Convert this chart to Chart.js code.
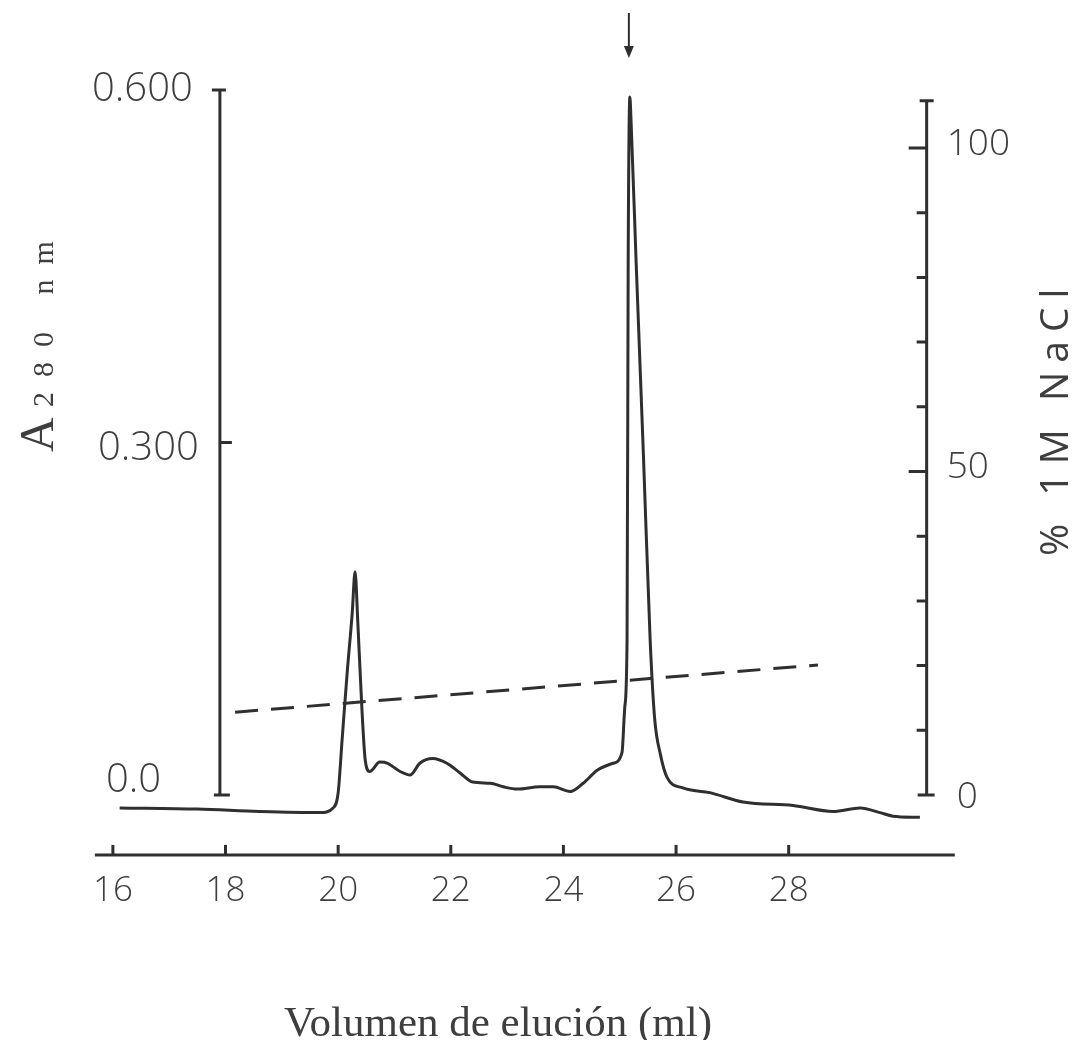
<!DOCTYPE html>
<html>
<head>
<meta charset="utf-8">
<script src="https://cdnjs.cloudflare.com/ajax/libs/Chart.js/4.4.1/chart.umd.min.js"></script>
<style>
  html, body { margin: 0; padding: 0; background: #fff; }
  canvas { display: block; }
</style>
</head>
<body>
<canvas id="elutionChart" width="1091" height="1040"></canvas>
<script>
// elution profile, A280 against volume (ml)
const elutionMl = [16.12, 17.5, 18.6, 19.68, 19.91, 20.0, 20.07, 20.16, 20.25, 20.30,
  20.35, 20.42, 20.48, 20.56, 20.74, 20.88, 21.10, 21.28, 21.45, 21.68,
  21.93, 22.16, 22.39, 22.70, 22.93, 23.18, 23.58, 23.82, 24.12, 24.35,
  24.60, 24.88, 25.04, 25.09, 25.13, 25.15, 25.18, 25.20, 25.29, 25.42,
  25.54, 25.62, 25.72, 25.84, 26.12, 26.60, 27.19, 28.08, 28.79, 29.27,
  29.62, 29.85, 30.33];
const absorbance = [-0.011, -0.012, -0.014, -0.015, -0.011, 0.002, 0.047, 0.104, 0.155, 0.190,
  0.146, 0.075, 0.030, 0.020, 0.028, 0.027, 0.020, 0.017, 0.027, 0.031,
  0.027, 0.019, 0.011, 0.010, 0.007, 0.005, 0.007, 0.007, 0.003, 0.010,
  0.021, 0.027, 0.036, 0.075, 0.132, 0.455, 0.594, 0.575, 0.455, 0.290,
  0.132, 0.065, 0.035, 0.015, 0.006, 0.002, -0.006, -0.009, -0.014, -0.011,
  -0.015, -0.018, -0.019];

// salt gradient (dashed)
const gradientMl = [18.17, 28.52];
const gradientPct = [12.8, 20.1];

// axes
const xTicks = [16, 18, 20, 22, 24, 26, 28];
const absTicks = [0.6, 0.3, 0.0];
const absTickLabels = ["0.600", "0.300", "0.0"];
const naclTicks = [0, 10, 20, 30, 40, 50, 60, 70, 80, 90, 100];
const naclLabelled = [0, 50, 100];
const peakArrowMl = 25.18;

const INK = "#2f2f2f";
const TEXT = "#3e3e3e";

const toPoints = (xs, ys) => xs.map((x, i) => ({ x: x, y: ys[i] }));

const axesPlugin = {
  id: "handAxes",
  afterDraw(chart) {
    const ctx = chart.ctx;
    const x = chart.scales.x;
    const yA = chart.scales.yA;
    const yN = chart.scales.yN;
    ctx.save();
    ctx.strokeStyle = INK;
    ctx.fillStyle = TEXT;
    ctx.lineWidth = 3;
    ctx.lineCap = "butt";

    // bottom volume axis
    const xAxisY = yA.getPixelForValue(-0.051);
    ctx.beginPath();
    ctx.moveTo(x.getPixelForValue(15.68), xAxisY);
    ctx.lineTo(x.getPixelForValue(30.95), xAxisY);
    ctx.stroke();
    ctx.font = "300 35px 'Open Sans'";
    ctx.textAlign = "center";
    ctx.textBaseline = "middle";
    xTicks.forEach((v) => {
      const px = x.getPixelForValue(v);
      ctx.beginPath();
      ctx.moveTo(px, xAxisY);
      ctx.lineTo(px, xAxisY - 10);
      ctx.stroke();
      ctx.fillText(String(v), px, xAxisY + 36);
    });

    // absorbance axis, drawn at 17.9 ml
    const ax = x.getPixelForValue(17.9);
    const aTop = yA.getPixelForValue(0.6);
    const aBot = yA.getPixelForValue(0);
    ctx.beginPath();
    ctx.moveTo(ax, aTop);
    ctx.lineTo(ax, aBot);
    ctx.moveTo(ax - 8, aTop);
    ctx.lineTo(ax + 6, aTop);
    ctx.moveTo(ax - 6, aBot);
    ctx.lineTo(ax + 10, aBot);
    ctx.moveTo(ax, yA.getPixelForValue(0.3));
    ctx.lineTo(ax + 12, yA.getPixelForValue(0.3));
    ctx.stroke();
    ctx.font = "300 40px 'Open Sans'";
    ctx.textAlign = "left";
    absTicks.forEach((v, i) => {
      const py = yA.getPixelForValue(v) + (v === 0 ? -14 : (v === 0.3 ? 6 : 0));
      const lx = v === 0 ? 106 : (v === 0.6 ? 92 : 98);
      ctx.fillText(absTickLabels[i], lx, py);
    });

    // % NaCl axis
    const nx = x.getPixelForValue(30.45);
    const nTop = yN.getPixelForValue(107.3);
    const nBot = yN.getPixelForValue(0);
    ctx.beginPath();
    ctx.moveTo(nx, nTop);
    ctx.lineTo(nx, nBot);
    ctx.moveTo(nx - 7, nTop);
    ctx.lineTo(nx + 7, nTop);
    ctx.moveTo(nx - 9, nBot);
    ctx.lineTo(nx + 8, nBot);
    naclTicks.forEach((v) => {
      if (v === 0) return;
      const py = yN.getPixelForValue(v);
      const len = naclLabelled.includes(v) ? 18 : 10;
      ctx.moveTo(nx - len, py);
      ctx.lineTo(nx, py);
    });
    ctx.stroke();
    ctx.font = "300 37px 'Open Sans'";
    naclLabelled.forEach((v) => {
      const py = yN.getPixelForValue(v) + (v === 0 ? 2 : -4);
      ctx.fillText(String(v), nx + (v === 0 ? 30 : 20), py);
    });

    // arrow over the main peak
    const arX = x.getPixelForValue(peakArrowMl) - 1;
    ctx.lineWidth = 2;
    ctx.beginPath();
    ctx.moveTo(arX, 13);
    ctx.lineTo(arX, 50);
    ctx.stroke();
    ctx.beginPath();
    ctx.moveTo(arX - 5, 46);
    ctx.lineTo(arX + 5, 46);
    ctx.lineTo(arX, 58);
    ctx.closePath();
    ctx.fillStyle = INK;
    ctx.fill();

    // axis titles
    ctx.fillStyle = TEXT;
    ctx.font = "43px 'Liberation Serif'";
    ctx.textAlign = "center";
    ctx.textBaseline = "alphabetic";
    ctx.fillText("Volumen de elución (ml)", 498, 1036);

    ctx.save();
    ctx.translate(53, 452);
    ctx.rotate(-Math.PI / 2);
    ctx.textAlign = "left";
    ctx.font = "48px 'Liberation Serif'";
    ctx.fillText("A", 0, 0);
    ctx.font = "30px 'Liberation Serif'";
    ctx.letterSpacing = "15px";
    ctx.fillText("280 nm", 45, 0);
    ctx.restore();

    ctx.save();
    ctx.translate(1068, 556);
    ctx.rotate(-Math.PI / 2);
    ctx.textAlign = "left";
    ctx.font = "39px 'Open Sans'";
    ctx.letterSpacing = "9px";
    ctx.fillText("% 1M NaCl", 0, 0);
    ctx.restore();

    ctx.restore();
  },
};

const ctx = document.getElementById("elutionChart").getContext("2d");

new Chart(ctx, {
  type: "line",
  data: {
    datasets: [
      {
        label: "A280",
        data: toPoints(elutionMl, absorbance),
        yAxisID: "yA",
        borderColor: INK,
        borderWidth: 3,
        pointRadius: 0,
        fill: false,
        cubicInterpolationMode: "monotone",
      },
      {
        label: "% 1M NaCl",
        data: toPoints(gradientMl, gradientPct),
        yAxisID: "yN",
        borderColor: INK,
        borderWidth: 3,
        borderDash: [23, 13],
        pointRadius: 0,
        fill: false,
      },
    ],
  },
  options: {
    responsive: false,
    animation: false,
    layout: { padding: { left: 96, right: 139, top: 10, bottom: 200 } },
    plugins: { legend: { display: false }, tooltip: { enabled: false } },
    scales: {
      x: { type: "linear", min: 15.7, max: 30.9, display: false },
      yA: { type: "linear", position: "left", min: -0.0383, max: 0.6681, display: false },
      yN: { type: "linear", position: "right", min: -6.955, max: 121.33, display: false },
    },
  },
  plugins: [axesPlugin],
});
</script>
</body>
</html>
